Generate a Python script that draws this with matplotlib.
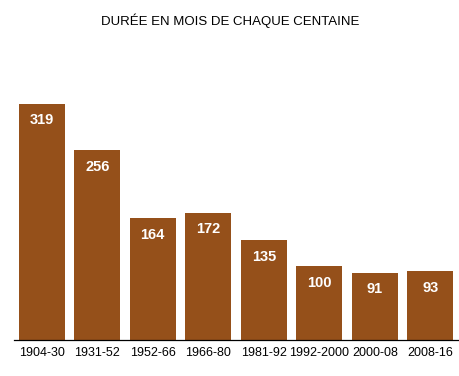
import numpy as np
import matplotlib.pyplot as plt

plt.rcParams['font.family'] = ['Liberation Sans', 'DejaVu Sans']

periods = ['1904-30', '1931-52', '1952-66', '1966-80', '1981-92',
           '1992-2000', '2000-08', '2008-16']
months = [319, 256, 164, 172, 135, 100, 91, 93]

bar_color = '#95501a'

fig = plt.figure(figsize=(4.6, 3.76), dpi=100)
ax = fig.add_axes([0.0304, 0.0957, 0.9653, 0.745])

x = np.arange(len(periods))
bars = ax.bar(x, months, width=0.83, color=bar_color)

for xi, v in zip(x, months):
    ax.annotate(str(v), (xi, v), xytext=(0, -12), textcoords='offset points',
                ha='center', va='center', color='white', fontsize=10.5,
                fontweight='bold')

ax.set_xlim(-0.5, len(periods) - 0.5)
ax.set_ylim(0, 378)
ax.set_xticks(x)
ax.set_xticklabels(periods, fontsize=9)
ax.tick_params(axis='x', length=0, pad=5)
ax.set_yticks([])
for side in ['top', 'right', 'left']:
    ax.spines[side].set_visible(False)
ax.spines['bottom'].set_linewidth(0.9)

fig.text(0.5, 1 - 21 / 376, 'DURÉE EN MOIS DE CHAQUE CENTAINE',
         ha='center', va='center', fontsize=9.5)

fig.savefig('out.png', dpi=100)
